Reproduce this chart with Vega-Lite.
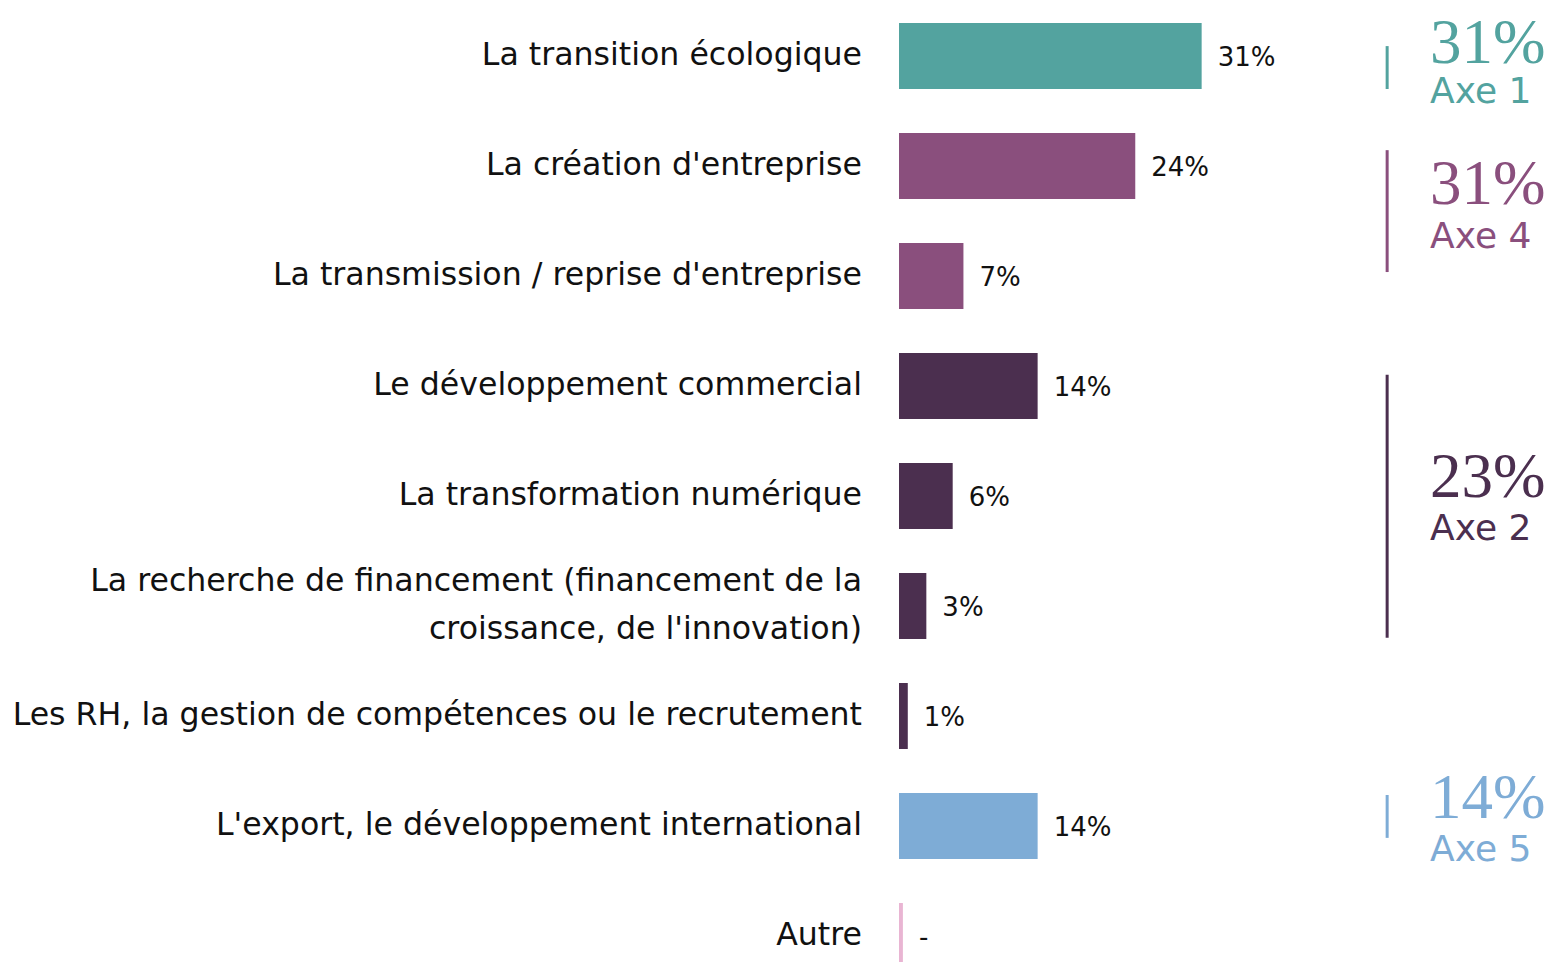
{
  "$schema": "https://vega.github.io/schema/vega-lite/v6.json",
  "width": 659,
  "height": 962,
  "autosize": {"type": "none"},
  "padding": {"left": 899, "top": 0, "right": 0, "bottom": 0},
  "background": "white",
  "config": {"view": {"stroke": null}, "font": "DejaVu Sans"},
  "datasets": {
    "bars": [
      {"category": "La transition écologique", "value": 31, "label": "31%", "group": "Axe 1"},
      {"category": "La création d'entreprise", "value": 24.2, "label": "24%", "group": "Axe 4"},
      {"category": "La transmission / reprise d'entreprise", "value": 6.6, "label": "7%", "group": "Axe 4"},
      {"category": "Le développement commercial", "value": 14.2, "label": "14%", "group": "Axe 2"},
      {"category": "La transformation numérique", "value": 5.5, "label": "6%", "group": "Axe 2"},
      {"category": "La recherche de financement (financement de la|croissance, de l'innovation)", "value": 2.8, "label": "3%", "group": "Axe 2"},
      {"category": "Les RH, la gestion de compétences ou le recrutement", "value": 0.9, "label": "1%", "group": "Axe 2"},
      {"category": "L'export, le développement international", "value": 14.2, "label": "14%", "group": "Axe 5"},
      {"category": "Autre", "value": 0.4, "label": "-", "group": "Autre"}
    ],
    "axes": [
      {"axe": "Axe 1", "pct": "31%", "first": "La transition écologique", "last": "La transition écologique"},
      {"axe": "Axe 4", "pct": "31%", "first": "La création d'entreprise", "last": "La transmission / reprise d'entreprise"},
      {"axe": "Axe 2", "pct": "23%", "first": "Le développement commercial", "last": "La recherche de financement (financement de la|croissance, de l'innovation)"},
      {"axe": "Axe 5", "pct": "14%", "first": "L'export, le développement international", "last": "L'export, le développement international"}
    ]
  },
  "encoding": {
    "color": {
      "field": "group",
      "type": "nominal",
      "scale": {
        "domain": ["Axe 1", "Axe 4", "Axe 2", "Axe 5", "Autre"],
        "range": ["#53a39f", "#8a4f7d", "#4b2f4f", "#7eacd6", "#e9b5d3"]
      },
      "legend": null
    }
  },
  "layer": [
    {
      "data": {"name": "bars"},
      "mark": {"type": "bar"},
      "encoding": {
        "y": {
          "field": "category",
          "type": "nominal",
          "scale": {
            "domain": [
              "La transition écologique",
              "La création d'entreprise",
              "La transmission / reprise d'entreprise",
              "Le développement commercial",
              "La transformation numérique",
              "La recherche de financement (financement de la|croissance, de l'innovation)",
              "Les RH, la gestion de compétences ou le recrutement",
              "L'export, le développement international",
              "Autre"
            ],
            "range": [1, 991],
            "paddingInner": 0.4,
            "paddingOuter": 0.2
          },
          "axis": null
        },
        "x": {
          "field": "value",
          "type": "quantitative",
          "scale": {"domain": [0, 67.5], "nice": false, "zero": true},
          "axis": null
        }
      }
    },
    {
      "data": {"name": "bars"},
      "transform": [{"filter": "indexof(datum.category, '|') < 0"}],
      "mark": {"type": "text", "align": "right", "baseline": "middle", "dx": -37, "fontSize": 31.6, "font": "DejaVu Sans"},
      "encoding": {
        "y": {"field": "category", "type": "nominal"},
        "x": {"datum": 0, "type": "quantitative"},
        "text": {"field": "category"},
        "color": {"value": "#111111"}
      }
    },
    {
      "data": {"name": "bars"},
      "transform": [{"filter": "indexof(datum.category, '|') >= 0"}],
      "mark": {"type": "text", "align": "right", "baseline": "middle", "dx": -37, "dy": -24, "lineBreak": "|", "lineHeight": 48, "fontSize": 31.6, "font": "DejaVu Sans"},
      "encoding": {
        "y": {"field": "category", "type": "nominal"},
        "x": {"datum": 0, "type": "quantitative"},
        "text": {"field": "category"},
        "color": {"value": "#111111"}
      }
    },
    {
      "data": {"name": "bars"},
      "mark": {"type": "text", "align": "left", "baseline": "middle", "dx": 16, "dy": 2, "fontSize": 26, "font": "DejaVu Sans"},
      "encoding": {
        "y": {"field": "category", "type": "nominal"},
        "x": {"field": "value", "type": "quantitative"},
        "text": {"field": "label"},
        "color": {"value": "#111111"}
      }
    },
    {
      "data": {"name": "axes"},
      "transform": [{"filter": "datum.axe == 'Axe 1'"}],
      "encoding": {"color": {"field": "axe", "type": "nominal"}},
      "layer": [
        {
          "mark": {"type": "rule", "strokeWidth": 3},
          "encoding": {
            "x": {"datum": 50, "type": "quantitative"},
            "y": {"field": "first", "type": "nominal", "bandPosition": 0.35},
            "y2": {"field": "last", "bandPosition": 1.0}
          }
        },
        {
          "mark": {"type": "text", "align": "left", "baseline": "alphabetic", "font": "Liberation Serif", "fontSize": 63},
          "encoding": {
            "x": {"datum": 54.4, "type": "quantitative"},
            "y": {"field": "first", "type": "nominal", "bandPosition": 0.6},
            "text": {"field": "pct"}
          }
        },
        {
          "mark": {"type": "text", "align": "left", "baseline": "alphabetic", "dy": 40, "font": "DejaVu Sans", "fontSize": 36},
          "encoding": {
            "x": {"datum": 54.4, "type": "quantitative"},
            "y": {"field": "first", "type": "nominal", "bandPosition": 0.6},
            "text": {"field": "axe"}
          }
        }
      ]
    },
    {
      "data": {"name": "axes"},
      "transform": [{"filter": "datum.axe == 'Axe 4'"}],
      "encoding": {"color": {"field": "axe", "type": "nominal"}},
      "layer": [
        {
          "mark": {"type": "rule", "strokeWidth": 3},
          "encoding": {
            "x": {"datum": 50, "type": "quantitative"},
            "y": {"field": "first", "type": "nominal", "bandPosition": 0.26},
            "y2": {"field": "last", "bandPosition": 0.44}
          }
        },
        {
          "mark": {"type": "text", "align": "left", "baseline": "alphabetic", "font": "Liberation Serif", "fontSize": 63},
          "encoding": {
            "x": {"datum": 54.4, "type": "quantitative"},
            "y": {"field": "first", "type": "nominal", "bandPosition": 1.08},
            "text": {"field": "pct"}
          }
        },
        {
          "mark": {"type": "text", "align": "left", "baseline": "alphabetic", "dy": 44, "font": "DejaVu Sans", "fontSize": 36},
          "encoding": {
            "x": {"datum": 54.4, "type": "quantitative"},
            "y": {"field": "first", "type": "nominal", "bandPosition": 1.08},
            "text": {"field": "axe"}
          }
        }
      ]
    },
    {
      "data": {"name": "axes"},
      "transform": [{"filter": "datum.axe == 'Axe 2'"}],
      "encoding": {"color": {"field": "axe", "type": "nominal"}},
      "layer": [
        {
          "mark": {"type": "rule", "strokeWidth": 3},
          "encoding": {
            "x": {"datum": 50, "type": "quantitative"},
            "y": {"field": "first", "type": "nominal", "bandPosition": 0.33},
            "y2": {"field": "last", "bandPosition": 0.98}
          }
        },
        {
          "mark": {"type": "text", "align": "left", "baseline": "alphabetic", "font": "Liberation Serif", "fontSize": 63},
          "encoding": {
            "x": {"datum": 54.4, "type": "quantitative"},
            "y": {"field": "first", "type": "nominal", "bandPosition": 2.18},
            "text": {"field": "pct"}
          }
        },
        {
          "mark": {"type": "text", "align": "left", "baseline": "alphabetic", "dy": 43, "font": "DejaVu Sans", "fontSize": 36},
          "encoding": {
            "x": {"datum": 54.4, "type": "quantitative"},
            "y": {"field": "first", "type": "nominal", "bandPosition": 2.18},
            "text": {"field": "axe"}
          }
        }
      ]
    },
    {
      "data": {"name": "axes"},
      "transform": [{"filter": "datum.axe == 'Axe 5'"}],
      "encoding": {"color": {"field": "axe", "type": "nominal"}},
      "layer": [
        {
          "mark": {"type": "rule", "strokeWidth": 3},
          "encoding": {
            "x": {"datum": 50, "type": "quantitative"},
            "y": {"field": "first", "type": "nominal", "bandPosition": 0.03},
            "y2": {"field": "last", "bandPosition": 0.68}
          }
        },
        {
          "mark": {"type": "text", "align": "left", "baseline": "alphabetic", "font": "Liberation Serif", "fontSize": 63},
          "encoding": {
            "x": {"datum": 54.4, "type": "quantitative"},
            "y": {"field": "first", "type": "nominal", "bandPosition": 0.38},
            "text": {"field": "pct"}
          }
        },
        {
          "mark": {"type": "text", "align": "left", "baseline": "alphabetic", "dy": 43, "font": "DejaVu Sans", "fontSize": 36},
          "encoding": {
            "x": {"datum": 54.4, "type": "quantitative"},
            "y": {"field": "first", "type": "nominal", "bandPosition": 0.38},
            "text": {"field": "axe"}
          }
        }
      ]
    }
  ]
}
